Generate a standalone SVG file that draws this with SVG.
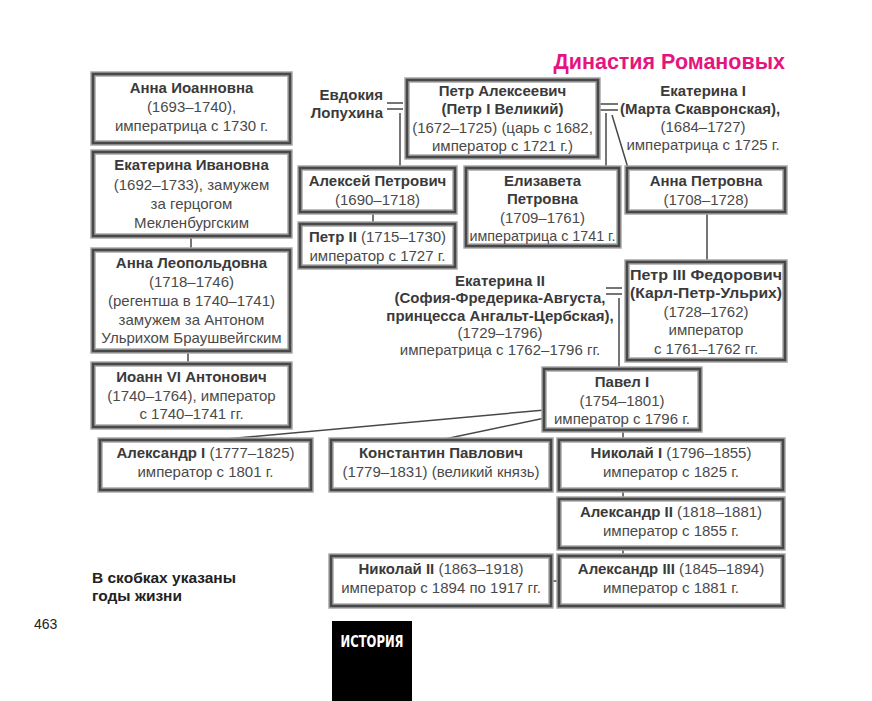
<svg xmlns="http://www.w3.org/2000/svg" width="872" height="701" viewBox="0 0 872 701">
<style>
text{font-family:"Liberation Sans",Arial,sans-serif;font-size:15px;fill:#4a4a4a;text-anchor:middle}
.b{font-weight:bold;fill:#3a3a3a}
.l{text-anchor:start}
.r{text-anchor:end}
.fo{fill:#fff;stroke:#a8a8a8;stroke-width:5.5}
.fi{fill:none;stroke:#484848;stroke-width:2.6}
.c{stroke:#484848;stroke-width:1.5;fill:none}
</style>
<rect width="872" height="701" fill="#fff"/>
<text x="785" y="69" class="b r" style="fill:#e5157f;font-size:21.5px">Династия Романовых</text>

<g id="connectors">
<path class="c" d="M387 103H403M387 109H403M400 113V168"/>
<path class="c" d="M600 104H618M600 110H618M606 113V168M612 115L628 168"/>
<path class="c" d="M373 212V224M707 212V262"/>
<path class="c" d="M191 236V250M188 351V364"/>
<path class="c" d="M606 288H622M606 294H622M619 298V369"/>
<path class="c" d="M545 410L215 440M545 418L440 440"/>
<path class="c" d="M623 430V440M623 490V499M623 548V556M551 581H559"/>
</g>

<g id="anna-ioannovna">
<rect class="fo" x="93" y="74" width="197" height="69"/><rect class="fi" x="93" y="74" width="197" height="69"/>
<text x="191.5" y="93" class="b">Анна Иоанновна</text>
<text x="191.5" y="112">(1693–1740),</text>
<text x="191.5" y="131">императрица с 1730 г.</text>
</g>
<g id="ekaterina-ivanovna">
<rect class="fo" x="93" y="152" width="197" height="84"/><rect class="fi" x="93" y="152" width="197" height="84"/>
<text x="191.5" y="170" class="b">Екатерина Ивановна</text>
<text x="191.5" y="190">(1692–1733), замужем</text>
<text x="191.5" y="209">за герцогом</text>
<text x="191.5" y="228">Мекленбургским</text>
</g>
<g id="anna-leopoldovna">
<rect class="fo" x="93" y="250" width="197" height="101"/><rect class="fi" x="93" y="250" width="197" height="101"/>
<text x="191.5" y="268" class="b">Анна Леопольдовна</text>
<text x="191.5" y="287">(1718–1746)</text>
<text x="191.5" y="306">(регентша в 1740–1741)</text>
<text x="191.5" y="325">замужем за Антоном</text>
<text x="191.5" y="343">Ульрихом Браушвейгским</text>
</g>
<g id="ioann-vi">
<rect class="fo" x="93" y="364" width="197" height="63"/><rect class="fi" x="93" y="364" width="197" height="63"/>
<text x="191.5" y="382" class="b">Иоанн VI Антонович</text>
<text x="191.5" y="401">(1740–1764), император</text>
<text x="191.5" y="419">с 1740–1741 гг.</text>
</g>

<g id="evdokia">
<text x="383" y="100" class="b r">Евдокия</text>
<text x="383" y="118" class="b r">Лопухина</text>
</g>
<g id="petr-i">
<rect class="fo" x="407" y="80" width="191" height="77"/><rect class="fi" x="407" y="80" width="191" height="77"/>
<text x="502.5" y="96" class="b">Петр Алексеевич</text>
<text x="502.5" y="114" class="b">(Петр I Великий)</text>
<text x="502.5" y="133">(1672–1725) (царь с 1682,</text>
<text x="502.5" y="151">император с 1721 г.)</text>
</g>
<g id="ekaterina-i">
<text x="703" y="96" class="b">Екатерина I</text>
<text x="620" y="114" class="b l">(Марта Скавронская),</text>
<text x="703" y="132">(1684–1727)</text>
<text x="703" y="150">императрица с 1725 г.</text>
</g>

<g id="aleksey">
<rect class="fo" x="300" y="168" width="155" height="44"/><rect class="fi" x="300" y="168" width="155" height="44"/>
<text x="377.5" y="186" class="b">Алексей Петрович</text>
<text x="377.5" y="205">(1690–1718)</text>
</g>
<g id="petr-ii">
<rect class="fo" x="300" y="224" width="155" height="43"/><rect class="fi" x="300" y="224" width="155" height="43"/>
<text x="377.5" y="242"><tspan class="b">Петр II</tspan> (1715–1730)</text>
<text x="377.5" y="261">император с 1727 г.</text>
</g>
<g id="elizaveta">
<rect class="fo" x="466" y="168" width="153" height="78"/><rect class="fi" x="466" y="168" width="153" height="78"/>
<text x="542.5" y="186" class="b">Елизавета</text>
<text x="542.5" y="204" class="b">Петровна</text>
<text x="542.5" y="223">(1709–1761)</text>
<text x="542.5" y="241" textLength="146" lengthAdjust="spacingAndGlyphs">императрица с 1741 г.</text>
</g>
<g id="anna-petrovna">
<rect class="fo" x="627" y="168" width="158" height="44"/><rect class="fi" x="627" y="168" width="158" height="44"/>
<text x="706" y="186" class="b">Анна Петровна</text>
<text x="706" y="205">(1708–1728)</text>
</g>

<g id="ekaterina-ii">
<text x="500" y="286" class="b">Екатерина II</text>
<text x="500" y="303" class="b">(София-Фредерика-Августа,</text>
<text x="500" y="321" class="b">принцесса Ангальт-Цербская),</text>
<text x="500" y="338">(1729–1796)</text>
<text x="500" y="355">императрица с 1762–1796 гг.</text>
</g>
<g id="petr-iii">
<rect class="fo" x="627" y="262" width="158" height="98"/><rect class="fi" x="627" y="262" width="158" height="98"/>
<text x="706" y="280" class="b" textLength="152" lengthAdjust="spacingAndGlyphs">Петр III Федорович</text>
<text x="706" y="298" class="b" textLength="152" lengthAdjust="spacingAndGlyphs">(Карл-Петр-Ульрих)</text>
<text x="706" y="317">(1728–1762)</text>
<text x="706" y="335">император</text>
<text x="706" y="354">с 1761–1762 гг.</text>
</g>
<g id="pavel-i">
<rect class="fo" x="544" y="369" width="156" height="61"/><rect class="fi" x="544" y="369" width="156" height="61"/>
<text x="622" y="387" class="b">Павел I</text>
<text x="622" y="406">(1754–1801)</text>
<text x="622" y="424">император с 1796 г.</text>
</g>

<g id="aleksandr-i">
<rect class="fo" x="100" y="440" width="211" height="50"/><rect class="fi" x="100" y="440" width="211" height="50"/>
<text x="205.5" y="458"><tspan class="b">Александр I</tspan> (1777–1825)</text>
<text x="205.5" y="477">император с 1801 г.</text>
</g>
<g id="konstantin">
<rect class="fo" x="331" y="440" width="220" height="50"/><rect class="fi" x="331" y="440" width="220" height="50"/>
<text x="441" y="458" class="b">Константин Павлович</text>
<text x="441" y="477">(1779–1831) (великий князь)</text>
</g>
<g id="nikolay-i">
<rect class="fo" x="559" y="440" width="224" height="50"/><rect class="fi" x="559" y="440" width="224" height="50"/>
<text x="671" y="458"><tspan class="b">Николай I</tspan> (1796–1855)</text>
<text x="671" y="477">император с 1825 г.</text>
</g>
<g id="aleksandr-ii">
<rect class="fo" x="559" y="499" width="224" height="49"/><rect class="fi" x="559" y="499" width="224" height="49"/>
<text x="671" y="517"><tspan class="b">Александр II</tspan> (1818–1881)</text>
<text x="671" y="536">император с 1855 г.</text>
</g>
<g id="nikolay-ii">
<rect class="fo" x="331" y="556" width="220" height="50"/><rect class="fi" x="331" y="556" width="220" height="50"/>
<text x="441" y="574"><tspan class="b">Николай II</tspan> (1863–1918)</text>
<text x="441" y="593">император с 1894 по 1917 гг.</text>
</g>
<g id="aleksandr-iii">
<rect class="fo" x="559" y="556" width="224" height="50"/><rect class="fi" x="559" y="556" width="224" height="50"/>
<text x="671" y="574"><tspan class="b">Александр III</tspan> (1845–1894)</text>
<text x="671" y="593">император с 1881 г.</text>
</g>

<g id="note">
<text x="92" y="583" class="b l" style="fill:#222;font-size:15.5px">В скобках указаны</text>
<text x="92" y="601" class="b l" style="fill:#222;font-size:15.5px">годы жизни</text>
</g>
<text x="34" y="629" class="l" style="fill:#222;font-size:14px">463</text>
<g id="istoriya">
<rect x="332" y="621" width="80" height="80" fill="#000"/>
<text x="372" y="647" textLength="63" lengthAdjust="spacingAndGlyphs" style="fill:#fff;font-family:'DejaVu Sans Condensed','Liberation Sans',sans-serif;font-weight:bold;font-size:15px">ИСТОРИЯ</text>
</g>
</svg>
